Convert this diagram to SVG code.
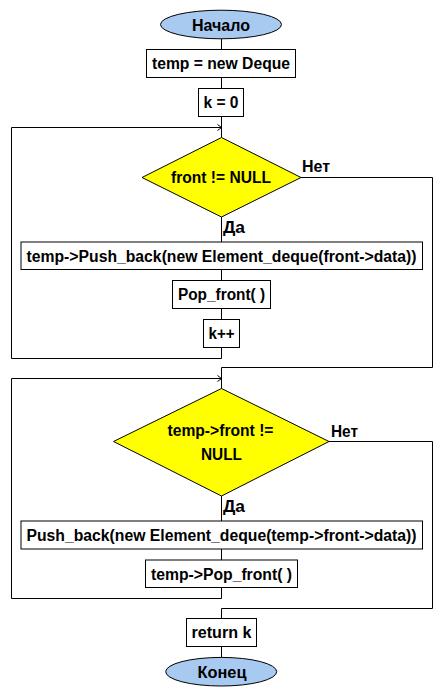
<svg xmlns="http://www.w3.org/2000/svg" width="442" height="696" viewBox="0 0 442 696">
<defs>
<style>
.box{fill:#fff;stroke:#000;stroke-width:1}
.term{fill:#a8caf0;stroke:#000;stroke-width:1}
.dec{fill:#ffff00;stroke:#000;stroke-width:1}
.ln{fill:none;stroke:#000;stroke-width:1}
text{font-family:"Liberation Sans",Arial,sans-serif;font-weight:bold;font-size:16px;fill:#000}
.c{text-anchor:middle}
</style>
<marker id="arr" markerUnits="userSpaceOnUse" markerWidth="10" markerHeight="10" refX="0" refY="0" viewBox="-6 -5 8 10" orient="auto">
<path d="M-4,-3 L0,0 L-4,3" fill="none" stroke="#000" stroke-width="1"/>
</marker>
</defs>
<rect width="442" height="696" fill="#fff"/>
<g id="connectors">
<path class="ln" d="M221.5,39 V49.5"/>
<path class="ln" d="M221.5,77.5 V88.5"/>
<path class="ln" d="M221.5,116.5 V137.5"/>
<path class="ln" d="M221.5,217 V242.5"/>
<path class="ln" d="M221.5,269.5 V280.5"/>
<path class="ln" d="M221.5,308.5 V319.5"/>
<path class="ln" d="M221.5,347.5 V358.5 H11.5 V127.5 H221.5" marker-end="url(#arr)"/>
<path class="ln" d="M301,177.5 H432.5 V367.5 H221.5 V388.5"/>
<path class="ln" d="M221.5,496 V521.5"/>
<path class="ln" d="M221.5,548.5 V560.5"/>
<path class="ln" d="M221.5,587.5 V598.5 H11.5 V378.5 H221.5" marker-end="url(#arr)"/>
<path class="ln" d="M329,441.5 H432.5 V608.5 H221.5 V618.5"/>
<path class="ln" d="M221.5,646.5 V657.5"/>
<text x="302" y="172" textLength="28" lengthAdjust="spacingAndGlyphs">Нет</text>
<text x="223" y="233" textLength="22" lengthAdjust="spacingAndGlyphs">Да</text>
<text x="331" y="437" textLength="27" lengthAdjust="spacingAndGlyphs">Нет</text>
<text x="223" y="511.5" textLength="22" lengthAdjust="spacingAndGlyphs">Да</text>
</g>
<g id="start">
<ellipse class="term" cx="221" cy="24.5" rx="60.5" ry="14.3"/>
<text class="c" x="221" y="30.5" textLength="58" lengthAdjust="spacingAndGlyphs">Начало</text>
</g>
<g id="temp_new">
<rect class="box" x="146.5" y="49.5" width="149" height="28"/>
<text class="c" x="221" y="69" textLength="138" lengthAdjust="spacingAndGlyphs">temp = new Deque</text>
</g>
<g id="k0">
<rect class="box" x="198.5" y="88.5" width="45" height="28"/>
<text class="c" x="221" y="108" textLength="35" lengthAdjust="spacingAndGlyphs">k = 0</text>
</g>
<g id="cond1">
<polygon class="dec" points="221.5,137.5 301,177.5 221.5,217 142,177.5"/>
<text class="c" x="221" y="183" textLength="100" lengthAdjust="spacingAndGlyphs">front != NULL</text>
</g>
<g id="push1">
<rect class="box" x="21" y="242" width="401.5" height="27.5"/>
<text class="c" x="221.5" y="261.5" textLength="390" lengthAdjust="spacingAndGlyphs">temp-&gt;Push_back(new Element_deque(front-&gt;data))</text>
</g>
<g id="pop1">
<rect class="box" x="172.5" y="280.5" width="98" height="28"/>
<text class="c" x="221.5" y="300" textLength="87" lengthAdjust="spacingAndGlyphs">Pop_front( )</text>
</g>
<g id="kpp">
<rect class="box" x="203.5" y="319.5" width="36" height="28"/>
<text class="c" x="221.5" y="339" textLength="26" lengthAdjust="spacingAndGlyphs">k++</text>
</g>
<g id="cond2">
<polygon class="dec" points="221.5,388.5 329,441.5 221.5,496 113.5,441.5"/>
<text class="c" x="220.5" y="436" textLength="106" lengthAdjust="spacingAndGlyphs">temp-&gt;front !=</text>
<text class="c" x="221.5" y="460" textLength="41" lengthAdjust="spacingAndGlyphs">NULL</text>
</g>
<g id="push2">
<rect class="box" x="21" y="521" width="401.5" height="28"/>
<text class="c" x="221.5" y="541" textLength="390" lengthAdjust="spacingAndGlyphs">Push_back(new Element_deque(temp-&gt;front-&gt;data))</text>
</g>
<g id="pop2">
<rect class="box" x="145.5" y="560" width="152" height="27.5"/>
<text class="c" x="221.5" y="580" textLength="141" lengthAdjust="spacingAndGlyphs">temp-&gt;Pop_front( )</text>
</g>
<g id="ret">
<rect class="box" x="186.5" y="618.5" width="70" height="28"/>
<text class="c" x="221.5" y="638" textLength="60" lengthAdjust="spacingAndGlyphs">return k</text>
</g>
<g id="end">
<ellipse class="term" cx="221.2" cy="671.7" rx="55.5" ry="14.3"/>
<text class="c" x="222" y="678" textLength="49" lengthAdjust="spacingAndGlyphs">Конец</text>
</g>
</svg>
